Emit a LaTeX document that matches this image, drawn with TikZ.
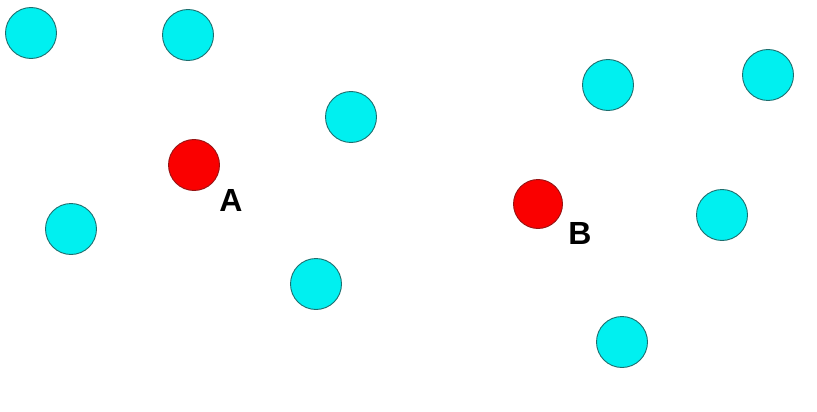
\documentclass[tikz,border=0pt]{standalone}
\usepackage{fontspec}
\setmainfont{Liberation Sans}
\definecolor{dotcyan}{RGB}{0,240,240}
\definecolor{dotred}{RGB}{250,0,0}
\definecolor{rimcyan}{RGB}{30,110,110}
\definecolor{rimred}{RGB}{150,20,20}
\begin{document}
\begin{tikzpicture}[x=1pt,y=-1pt,
  other/.style={circle,fill=dotcyan,draw=rimcyan,line width=0.9pt,minimum size=51pt,inner sep=0pt},
  query/.style={circle,fill=dotred,draw=rimred,line width=0.9pt,minimum size=51pt,inner sep=0pt},
  tag/.style={font=\bfseries\fontsize{32}{32}\selectfont,inner sep=0pt}]
\useasboundingbox (0,0) rectangle (817,412);
% neighbouring points
\node[other] (c1) at (31,33) {};
\node[other] (c2) at (188,35) {};
\node[other] (c3) at (351,117) {};
\node[other] (c4) at (71,229) {};
\node[other] (c5) at (316,284) {};
\node[other] (c6) at (608,85) {};
\node[other] (c7) at (768,75) {};
\node[other] (c8) at (722,215) {};
\node[other] (c9) at (622,342) {};
% the two query points
\node[query] (pa) at (194,165) {};
\node[query,minimum size=49pt] (pb) at (538,204) {};
\node[tag] (la) at (231,200) {A};
\node[tag] (lb) at (580,233) {B};
\end{tikzpicture}
\end{document}
